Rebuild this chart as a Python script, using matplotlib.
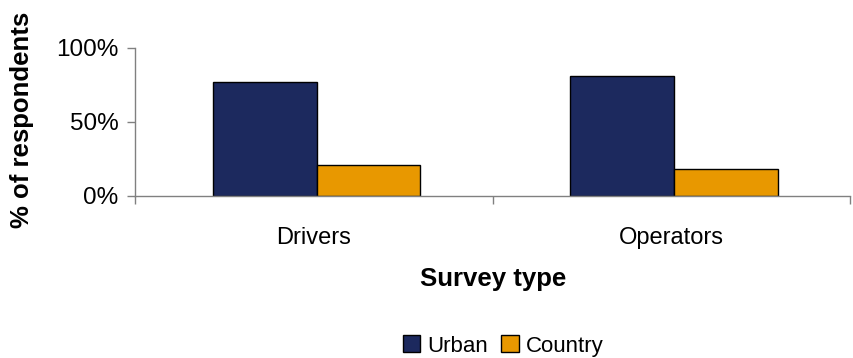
import matplotlib
matplotlib.use("Agg")
import matplotlib.pyplot as plt
from matplotlib.ticker import PercentFormatter
import numpy as np

categories = ["Drivers", "Operators"]
urban = [0.77, 0.81]
country = [0.21, 0.185]
series_names = ["Urban", "Country"]
colors = ["#1C295E", "#E89800"]
yticks = [0, 0.5, 1.0]

plt.rcParams['font.family'] = ['Liberation Sans', 'DejaVu Sans']

fig = plt.figure(figsize=(8.54, 3.58), dpi=100)
ax = fig.add_axes([135/854, 1-196/358, (850-135)/854, (196-48)/358])

x = np.arange(len(categories))
w = 0.29
ax.bar(x - w/2 + 0.008, urban, w, color=colors[0], edgecolor="black", linewidth=1, label=series_names[0])
ax.bar(x + w/2 + 0.008, country, w, color=colors[1], edgecolor="black", linewidth=1, label=series_names[1])

ax.set_xlim(-0.5, len(categories) - 0.5)
ax.set_ylim(0, 1.0)
ax.set_yticks(yticks)
ax.yaxis.set_major_formatter(PercentFormatter(1.0, decimals=0))
ax.set_xticks(x)
ax.set_xticklabels(categories)
ax.set_xticks(np.arange(len(categories) + 1) - 0.5, minor=True)
ax.tick_params(axis='x', which='major', length=0, pad=22, labelsize=17)
ax.tick_params(axis='x', which='minor', length=6, color="#808080", width=1)
ax.tick_params(axis='y', length=6, color="#808080", width=1, pad=6, labelsize=17.5)

for s in ["top", "right"]:
    ax.spines[s].set_visible(False)
for s in ["left", "bottom"]:
    ax.spines[s].set_color("#808080")
    ax.spines[s].set_linewidth(1)

fig.text(493/854, 1-279/358, "Survey type", ha="center", va="center", fontsize=18.5, fontweight="bold")
fig.text(22/854, 1-120/358, "% of respondents", ha="center", va="center", rotation=90, fontsize=18.5, fontweight="bold")

fig.legend(loc="center", bbox_to_anchor=(503/854, 1-346/358), ncol=2, frameon=False,
           fontsize=16, handlelength=0.8, handleheight=0.8, handletextpad=0.3, columnspacing=0.6,
           borderpad=0)

fig.savefig("out.png", dpi=100)
